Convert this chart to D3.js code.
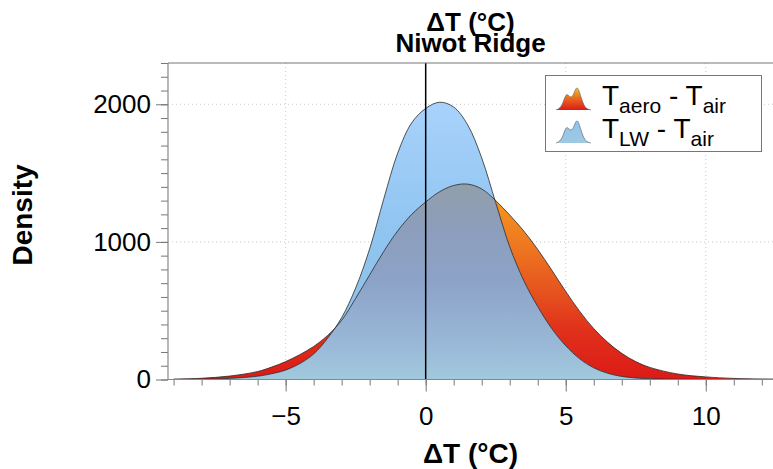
<!DOCTYPE html>
<html>
<head>
<meta charset="utf-8">
<script src="https://cdn.jsdelivr.net/npm/d3@7"></script>
<style>
  body { margin: 0; background: #fff; }
  svg { display: block; font-family: "Liberation Sans", Arial, Helvetica, sans-serif; }
</style>
</head>
<body>
<div id="chart"></div>
<script>
// temperature difference grid (°C)
var deltaT = [-9, -8, -7, -6, -5.5, -5, -4.5, -4, -3.5, -3, -2.5, -2, -1.5, -1, -0.5, 0, 0.5, 1, 1.5, 2,
              2.5, 3, 3.5, 4, 4.5, 5, 5.5, 6, 6.5, 7, 7.5, 8, 9, 10, 11, 12.5];
// T_aero - T_air density
var aeroDensity = [3, 9, 25, 58, 90, 130, 180, 240, 320, 430, 590, 760, 930, 1080, 1200, 1290, 1365, 1410, 1420, 1385,
                   1300, 1195, 1080, 945, 795, 640, 495, 370, 270, 190, 130, 88, 40, 19, 8, 3];
// T_LW - T_air density
var lwDensity = [0.5, 2, 8, 24, 42, 68, 115, 185, 300, 450, 665, 950, 1310, 1645, 1865, 1970, 2015, 1980, 1850, 1610,
                 1285, 965, 720, 530, 370, 245, 150, 85, 45, 22, 11, 6, 2, 0.5, 0, 0];

var xMajor = [-5, 0, 5, 10];
var yMajor = [0, 1000, 2000];
var legendLabels = [["T", "aero", " - T", "air"], ["T", "LW", " - T", "air"]];
// little two-humped glyph used in the legend
var iconShape = [0, 0.05, 0.25, 0.7, 0.45, 0.55, 1.0, 0.55, 0.15, 0.03, 0];

var width = 773, height = 469;
var plotLeft = 168, plotRight = 773, plotTop = 63, plotBottom = 379.5;

var svg = d3.select('#chart').append('svg')
    .attr('width', width)
    .attr('height', height);

var x = d3.scaleLinear().domain([-9.2, 12.4]).range([plotLeft, plotRight]);
var y = d3.scaleLinear().domain([0, 2300]).range([plotBottom, plotTop]);

var defs = svg.append('defs');
function gradient(id, stops, y0, y1, units) {
    var g = defs.append('linearGradient')
        .attr('id', id)
        .attr('gradientUnits', units || 'userSpaceOnUse')
        .attr('x1', 0).attr('x2', 0)
        .attr('y1', y0).attr('y2', y1);
    stops.forEach(function(s) {
        g.append('stop').attr('offset', s[0]).attr('stop-color', s[1]);
    });
}
gradient('aeroFill', [[0, '#dc1a17'], [0.25, '#e0301b'], [0.43, '#e5501e'], [0.7, '#ee7a20'], [1, '#f5a01f']], y(0), y(1420));
gradient('lwFill', [[0, '#a0c8e0'], [0.25, '#92c2e8'], [0.5, '#8ec4f0'], [1, '#a8d2fb']], y(0), y(2015));
gradient('overlapFill', [[0, '#a1c9dd'], [0.21, '#98b6d6'], [0.5, '#8ca3c8'], [0.77, '#8c9ebc'], [1, '#929eab']], y(0), y(1420));
gradient('iconRed', [[0, '#dc1a17'], [0.5, '#ea6420'], [1, '#f2c224']], 1, 0, 'objectBoundingBox');
gradient('iconBlue', [[0, '#a0c8e0'], [1, '#8ec4f0']], 1, 0, 'objectBoundingBox');

// grid
var grid = svg.append('g').attr('stroke', '#c8c8c8').attr('stroke-dasharray', '1,3').attr('stroke-width', 1);
grid.selectAll('.gx').data(xMajor).enter().append('line')
    .attr('x1', function(d) { return x(d); }).attr('x2', function(d) { return x(d); })
    .attr('y1', plotTop).attr('y2', plotBottom);
grid.selectAll('.gy').data(yMajor).enter().append('line')
    .attr('y1', function(d) { return y(d); }).attr('y2', function(d) { return y(d); })
    .attr('x1', plotLeft).attr('x2', plotRight);

var aeroPts = deltaT.map(function(d, i) { return [d, aeroDensity[i]]; });
var lwPts = deltaT.map(function(d, i) { return [d, lwDensity[i]]; });

var smooth = d3.curveCatmullRom.alpha(0.5);
var area = d3.area()
    .x(function(d) { return x(d[0]); })
    .y0(y(0))
    .y1(function(d) { return y(d[1]); })
    .curve(smooth);
var line = d3.line()
    .x(function(d) { return x(d[0]); })
    .y(function(d) { return y(d[1]); })
    .curve(smooth);

defs.append('clipPath').attr('id', 'plotClip')
    .append('rect').attr('x', plotLeft).attr('y', plotTop)
    .attr('width', plotRight - plotLeft).attr('height', plotBottom - plotTop);
defs.append('clipPath').attr('id', 'aeroClip')
    .append('path').attr('d', area(aeroPts));

var plot = svg.append('g').attr('clip-path', 'url(#plotClip)');
plot.append('path').attr('d', area(aeroPts)).attr('fill', 'url(#aeroFill)');
plot.append('path').attr('d', area(lwPts)).attr('fill', 'url(#lwFill)');
plot.append('path').attr('d', area(lwPts)).attr('fill', 'url(#overlapFill)').attr('clip-path', 'url(#aeroClip)');
plot.append('path').attr('d', line(aeroPts)).attr('fill', 'none').attr('stroke', '#2a2a2a').attr('stroke-width', 0.8);
plot.append('path').attr('d', line(lwPts)).attr('fill', 'none').attr('stroke', '#2a2a2a').attr('stroke-width', 0.8);

// zero line
svg.append('line')
    .attr('x1', x(0)).attr('x2', x(0))
    .attr('y1', plotTop).attr('y2', plotBottom)
    .attr('stroke', '#000').attr('stroke-width', 1.5);

// axes
function styleAxis(g) {
    g.select('.domain').remove();
    g.selectAll('.tick line').attr('stroke', '#777');
    g.selectAll('text').attr('fill', '#000').style('font-size', '26px');
}
svg.append('g').attr('transform', 'translate(' + plotLeft + ',0)')
    .call(d3.axisLeft(y).tickValues(d3.range(0, 2301, 100)).tickSize(7).tickFormat(''))
    .call(styleAxis);
svg.append('g').attr('transform', 'translate(' + plotLeft + ',0)')
    .call(d3.axisLeft(y).tickValues(yMajor).tickSize(12).tickPadding(5).tickFormat(d3.format('d')))
    .call(styleAxis);
svg.append('g').attr('transform', 'translate(0,' + plotBottom + ')')
    .call(d3.axisBottom(x).tickValues(d3.range(-9, 13)).tickSize(6).tickFormat(''))
    .call(styleAxis);
svg.append('g').attr('transform', 'translate(0,' + plotBottom + ')')
    .call(d3.axisBottom(x).tickValues(xMajor).tickSize(12).tickPadding(15)
        .tickFormat(function(d) { return d < 0 ? '\u2212' + Math.abs(d) : d; }))
    .call(styleAxis);

// frame lines
svg.append('line').attr('x1', plotLeft).attr('x2', plotLeft).attr('y1', plotTop).attr('y2', plotBottom)
    .attr('stroke', '#888').attr('stroke-width', 1.2);
svg.append('line').attr('x1', plotLeft).attr('x2', plotRight).attr('y1', plotBottom).attr('y2', plotBottom)
    .attr('stroke', '#888').attr('stroke-width', 1.2);
svg.append('line').attr('x1', plotLeft).attr('x2', plotRight).attr('y1', plotTop).attr('y2', plotTop)
    .attr('stroke', '#777').attr('stroke-width', 1.2);

// titles
var cx = (plotLeft + plotRight) / 2;
svg.append('text').attr('x', cx).attr('y', 31).attr('text-anchor', 'middle')
    .style('font-size', '26px').style('font-weight', 'bold').text('\u0394T (\u00b0C)');
svg.append('text').attr('x', cx).attr('y', 52).attr('text-anchor', 'middle')
    .style('font-size', '26px').style('font-weight', 'bold').text('Niwot Ridge');
svg.append('text').attr('x', cx).attr('y', 463).attr('text-anchor', 'middle')
    .style('font-size', '28px').style('font-weight', 'bold').text('\u0394T (\u00b0C)');
svg.append('text').attr('transform', 'translate(32,215) rotate(-90)').attr('text-anchor', 'middle')
    .style('font-size', '28px').style('font-weight', 'bold').text('Density');

// legend
var legend = svg.append('g');
legend.append('rect').attr('x', 545.5).attr('y', 75.5).attr('width', 216).attr('height', 76)
    .attr('fill', '#fff').attr('stroke', '#777').attr('stroke-width', 1);

var ix = d3.scaleLinear().domain([0, iconShape.length - 1]).range([556, 591]);
var iy = d3.scaleLinear().domain([0, 1]).range([0, -26]);
var iconArea = d3.area()
    .x(function(d, i) { return ix(i); })
    .y0(0)
    .y1(function(d) { return iy(d); })
    .curve(d3.curveBasis);
var iconLine = d3.line()
    .x(function(d, i) { return ix(i); })
    .y(function(d) { return iy(d); })
    .curve(d3.curveBasis);
var iconFills = ['url(#iconRed)', 'url(#iconBlue)'];
var rowBase = [110, 143];

legendLabels.forEach(function(parts, k) {
    var g = legend.append('g').attr('transform', 'translate(0,' + rowBase[k] + ')');
    g.append('path').attr('d', iconArea(iconShape)).attr('fill', iconFills[k]);
    g.append('path').attr('d', iconLine(iconShape)).attr('fill', 'none').attr('stroke', '#555').attr('stroke-width', 0.6);
    var t = g.append('text').attr('x', 602).attr('y', -5).style('font-size', '28px');
    t.append('tspan').text(parts[0]);
    t.append('tspan').attr('dy', 8).style('font-size', '21px').text(parts[1]);
    t.append('tspan').attr('dy', -8).text(parts[2]);
    t.append('tspan').attr('dy', 8).style('font-size', '21px').text(parts[3]);
});
</script>
</body>
</html>
